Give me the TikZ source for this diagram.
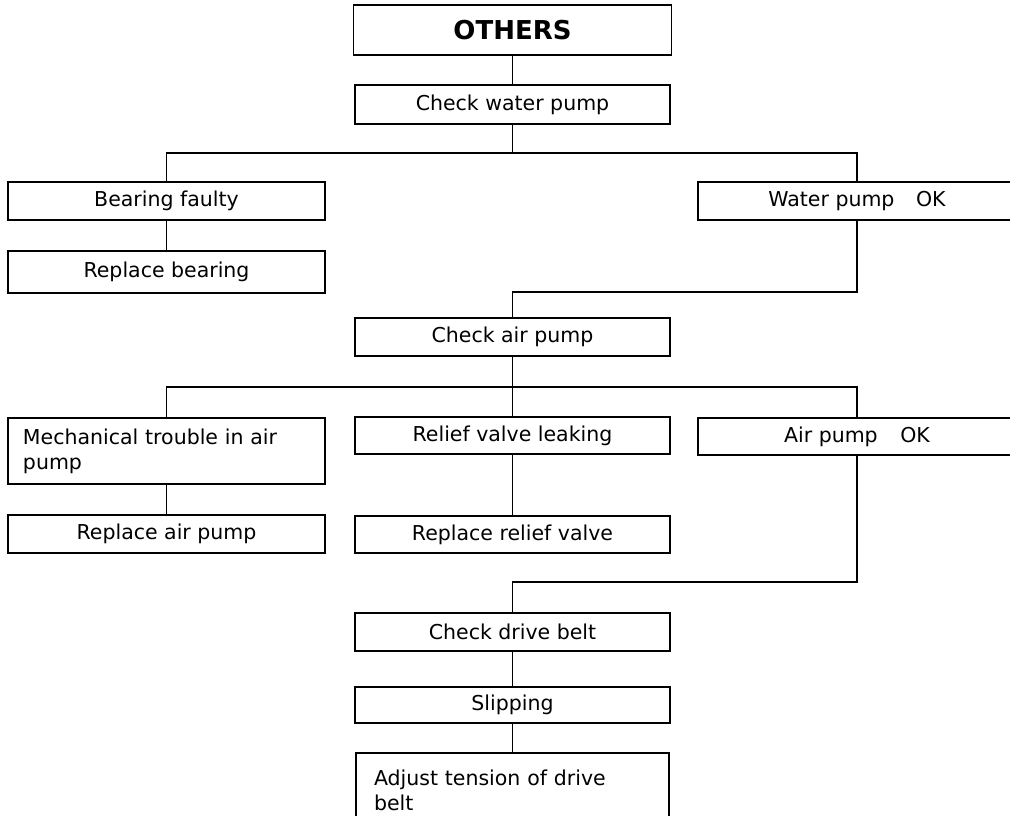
\documentclass[tikz,border=0pt]{standalone}
\usepackage{fontspec}
\setmainfont{DejaVu Sans}
\begin{document}
\begin{tikzpicture}[x=1pt,y=-1pt,
  box/.style={draw, line width=1.2pt, inner sep=0pt, font=\fontsize{20.5}{25}\selectfont},
  conn/.style={line width=1.2pt}]
\useasboundingbox (0,0) rectangle (1010,816);
\clip (0,0) rectangle (1010,816);
\fill[white] (0,0) rectangle (1010,816);
% nodes
\node[box, minimum width=318pt, minimum height=50pt, font=\fontsize{26}{30}\bfseries] (others) at (512.5,30) {OTHERS};
\node[box, minimum width=315pt, minimum height=39pt] (cwp) at (512.5,104.5) {Check water pump};
\node[box, minimum width=317pt, minimum height=38pt] (bf) at (166.5,201) {Bearing faulty};
\node[box, minimum width=317pt, minimum height=42pt] (rb) at (166.5,272) {Replace bearing};
\node[box, minimum width=318pt, minimum height=38pt] (wok) at (857,201) {Water pump\hspace{1.05em}OK};
\node[box, minimum width=315pt, minimum height=38pt] (cap) at (512.5,337) {Check air pump};
\node[box, minimum width=317pt, minimum height=66pt, text width=287pt, align=left] (mech) at (166.5,451) {Mechanical trouble in air\\pump};
\node[box, minimum width=315pt, minimum height=37pt] (rvl) at (512.5,435.5) {Relief valve leaking};
\node[box, minimum width=318pt, minimum height=37pt] (aok) at (857,436.5) {Air pump\hspace{1.1em}OK};
\node[box, minimum width=317pt, minimum height=38pt] (rap) at (166.5,534) {Replace air pump};
\node[box, minimum width=315pt, minimum height=37pt] (rrv) at (512.5,534.5) {Replace relief valve};
\node[box, minimum width=315pt, minimum height=38pt] (cdb) at (512.5,632) {Check drive belt};
\node[box, minimum width=315pt, minimum height=36pt] (slip) at (512.5,705) {Slipping};
\node[box, minimum width=313pt, minimum height=74pt, text width=277pt, align=left] (adj) at (512.5,790) {Adjust tension of drive\\belt};
% junctions
\coordinate (b1) at (512.5,153);
\coordinate (j1) at (512.5,292);
\coordinate (b2) at (512.5,387);
\coordinate (j2) at (512.5,582);
% connectors
\draw[conn] (others.south) -- (cwp.north);
\draw[conn] (cwp.south) -- (b1);
\draw[conn] (bf.north) |- (b1) -| (wok.north);
\draw[conn] (bf.south) -- (rb.north);
\draw[conn] (wok.south) |- (j1) -- (cap.north);
\draw[conn] (cap.south) -- (rvl.north);
\draw[conn] (mech.north) |- (b2) -| (aok.north);
\draw[conn] (mech.south) -- (rap.north);
\draw[conn] (rvl.south) -- (rrv.north);
\draw[conn] (aok.south) |- (j2) -- (cdb.north);
\draw[conn] (cdb.south) -- (slip.north);
\draw[conn] (slip.south) -- (adj.north);
\end{tikzpicture}
\end{document}
